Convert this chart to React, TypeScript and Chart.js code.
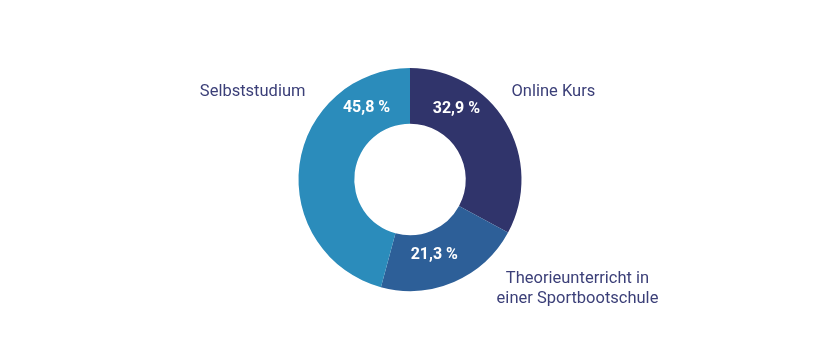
import React, { useEffect, useRef } from "react";
import { Chart, registerables } from "chart.js";

Chart.register(...registerables);

const categories = ["Online Kurs", "Theorieunterricht in\neiner Sportbootschule", "Selbststudium"];
const values = [32.9, 21.3, 45.8];
const valueLabels = ["32,9 %", "21,3 %", "45,8 %"];
const colors = ["#30346b", "#2d5f98", "#2b8cbb"];

// label placement: fraction along the arc and radius fraction of ring
const valuePos = [
  { f: 0.28, r: 0.76 },
  { f: 0.57, r: 0.71 },
  { f: 0.81, r: 0.75 },
];

const labelPlugin = {
  id: "labels",
  afterDatasetsDraw(chart: any) {
    const ctx = chart.ctx;
    const meta = chart.getDatasetMeta(0);
    ctx.save();
    meta.data.forEach((arc: any, i: number) => {
      const { x, y, startAngle, endAngle, outerRadius } = arc.getProps(
        ["x", "y", "startAngle", "endAngle", "outerRadius"],
        true
      );
      const a = startAngle + (endAngle - startAngle) * valuePos[i].f;
      const r = outerRadius * valuePos[i].r;
      ctx.fillStyle = "#ffffff";
      ctx.font = "bold 16px Roboto";
      ctx.textAlign = "center";
      ctx.textBaseline = "middle";
      ctx.fillText(valueLabels[i], x + Math.cos(a) * r, y + Math.sin(a) * r);

      // outer category labels
      ctx.fillStyle = "#3b3f78";
      ctx.font = "16.5px Roboto";
      const lines = categories[i].split("\n");
      let lx: number, ly: number, align: CanvasTextAlign;
      if (i === 0) {
        lx = x + outerRadius - 10;
        ly = y - outerRadius + 24;
        align = "left";
      } else if (i === 1) {
        lx = x + outerRadius + 56;
        ly = y + outerRadius - 2;
        align = "center";
      } else {
        lx = x - outerRadius + 7;
        ly = y - outerRadius + 24;
        align = "right";
      }
      ctx.textAlign = align;
      lines.forEach((ln, k) => {
        ctx.fillText(ln, lx, ly + k * 20 - ((lines.length - 1) * 20) / 2);
      });
    });
    ctx.restore();
  },
};

export default function App() {
  const ref = useRef<HTMLCanvasElement>(null);
  useEffect(() => {
    const chart = new Chart(ref.current!, {
      type: "doughnut",
      data: {
        labels: categories,
        datasets: [
          {
            data: values,
            backgroundColor: colors,
            borderWidth: 0,
          },
        ],
      },
      options: {
        responsive: false,
        animation: false,
        cutout: "50%",
        layout: { padding: { top: 68, bottom: 69, left: 200, right: 200 } },
        plugins: { legend: { display: false }, tooltip: { enabled: false } },
      },
      plugins: [labelPlugin],
    });
    return () => chart.destroy();
  }, []);
  return (
    <div style={{ position: "fixed", left: 0, top: 0, width: 820, height: 360, background: "#fff" }}>
      <canvas ref={ref} width={820} height={360} />
    </div>
  );
}
